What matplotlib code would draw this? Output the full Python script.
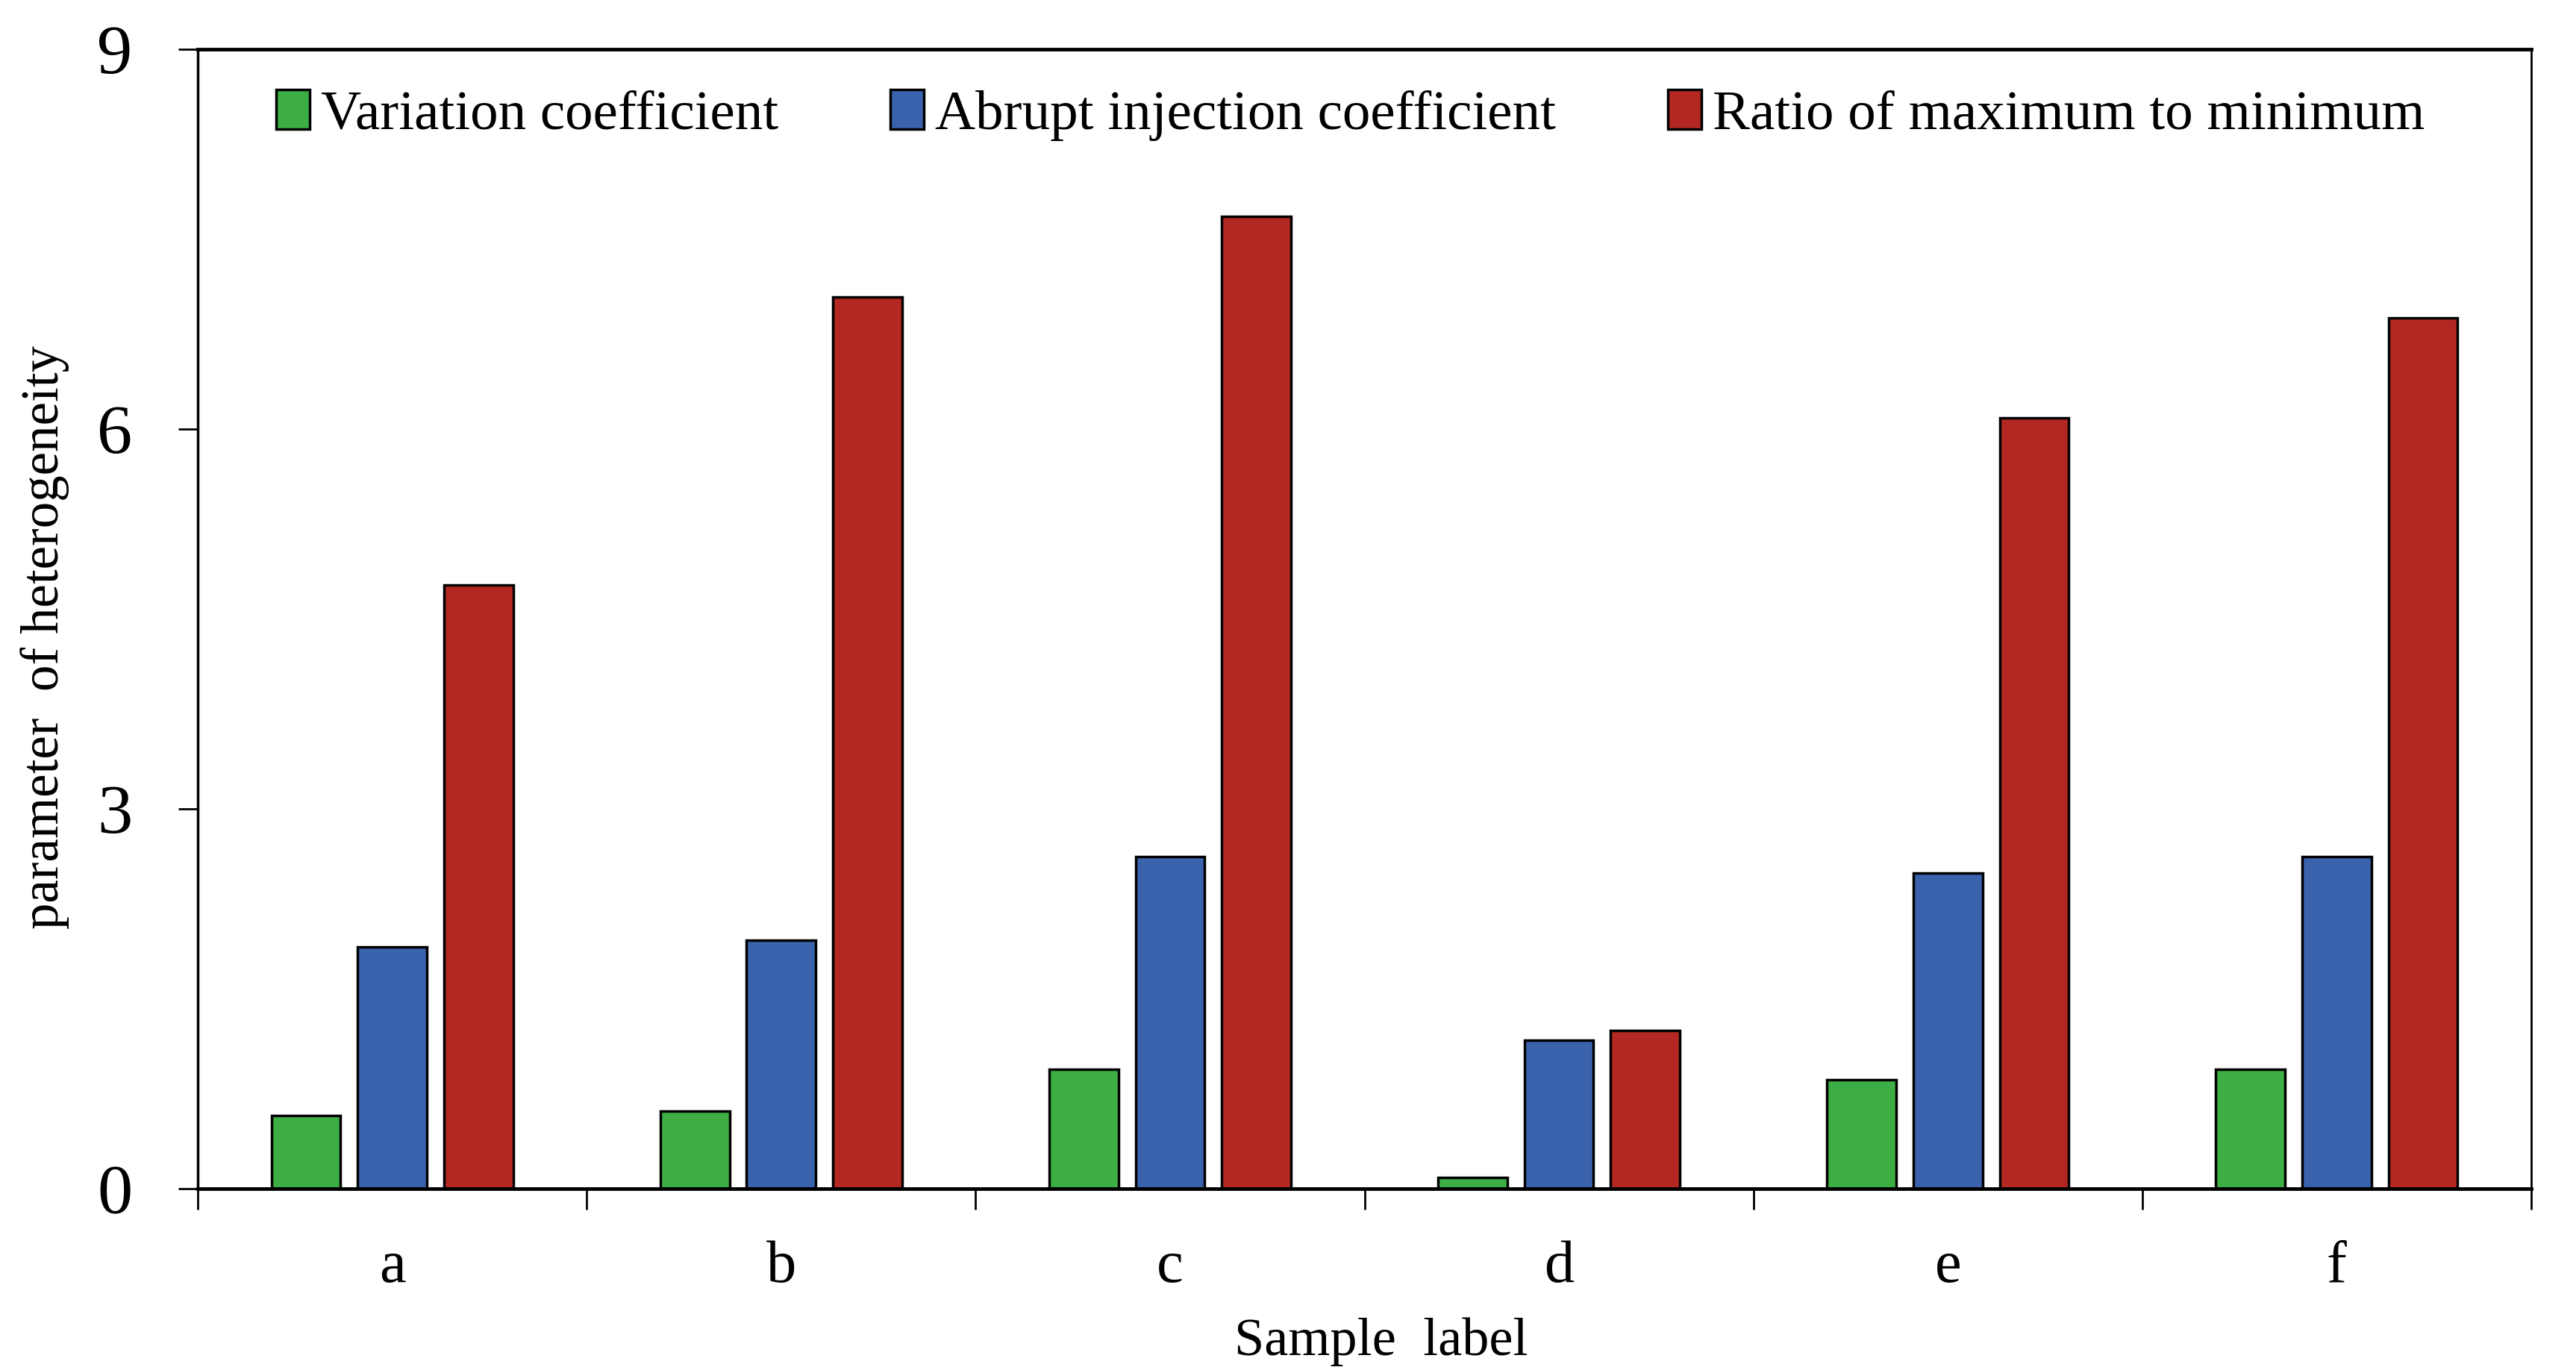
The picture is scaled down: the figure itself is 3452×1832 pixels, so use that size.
import matplotlib.pyplot as plt
import numpy as np

samples = ['a', 'b', 'c', 'd', 'e', 'f']
series = ['Variation coefficient', 'Abrupt injection coefficient', 'Ratio of maximum to minimum']
variation = [0.58, 0.61, 0.94, 0.09, 0.86, 0.94]
abrupt = [1.91, 1.96, 2.62, 1.17, 2.49, 2.62]
ratio = [4.77, 7.04, 7.68, 1.25, 6.09, 6.88]
colors = ['#3dae44', '#3a62ad', '#b32822']
y_ticks = [0, 3, 6, 9]

serif = ['Liberation Serif', 'DejaVu Serif']
plt.rcParams['font.family'] = serif

fig = plt.figure(figsize=(34.52, 18.32), dpi=100)
ax = fig.add_axes([0.0768, 0.1305, 0.9058, 0.8335])

# grouped bars, category boundaries at integers
centers = np.arange(len(samples)) + 0.5
width = 0.178
offsets = [-0.222, 0, 0.222]
for vals, off, col, name in zip([variation, abrupt, ratio], offsets, colors, series):
    ax.bar(centers + off, vals, width=width, color=col, edgecolor='black',
           linewidth=2.5, label=name, zorder=2)

ax.set_xlim(0, len(samples))
ax.set_ylim(0, 9)
ax.set_yticks(y_ticks)
ax.set_xticks(np.arange(len(samples) + 1))
ax.set_xticklabels([])
ax.set_xticks(centers, minor=True)
ax.set_xticklabels(samples, minor=True)

ax.tick_params(axis='y', direction='out', length=19, width=2, pad=44, labelsize=68)
ax.tick_params(axis='x', which='major', direction='out', length=20, width=2)
ax.tick_params(axis='x', which='minor', length=0, pad=50, labelsize=58)

for side, lw in [('left', 2.5), ('bottom', 3.5), ('top', 3.5), ('right', 2.0)]:
    ax.spines[side].set_linewidth(lw)

ax.set_xlabel('Sample  label', fontsize=52)
ax.xaxis.set_label_coords(0.507, -0.113)
ax.set_ylabel('parameter  of heterogeneity', fontsize=51)
ax.yaxis.set_label_coords(-0.055, 0.484)

ax.legend(loc='center', bbox_to_anchor=(0.494, 0.942), ncol=3, frameon=False,
          prop={'family': serif, 'size': 54}, handlelength=0.6, handleheight=0.7,
          handletextpad=0.2, columnspacing=2.0, borderaxespad=0)

fig.savefig('out.png', dpi=100)
